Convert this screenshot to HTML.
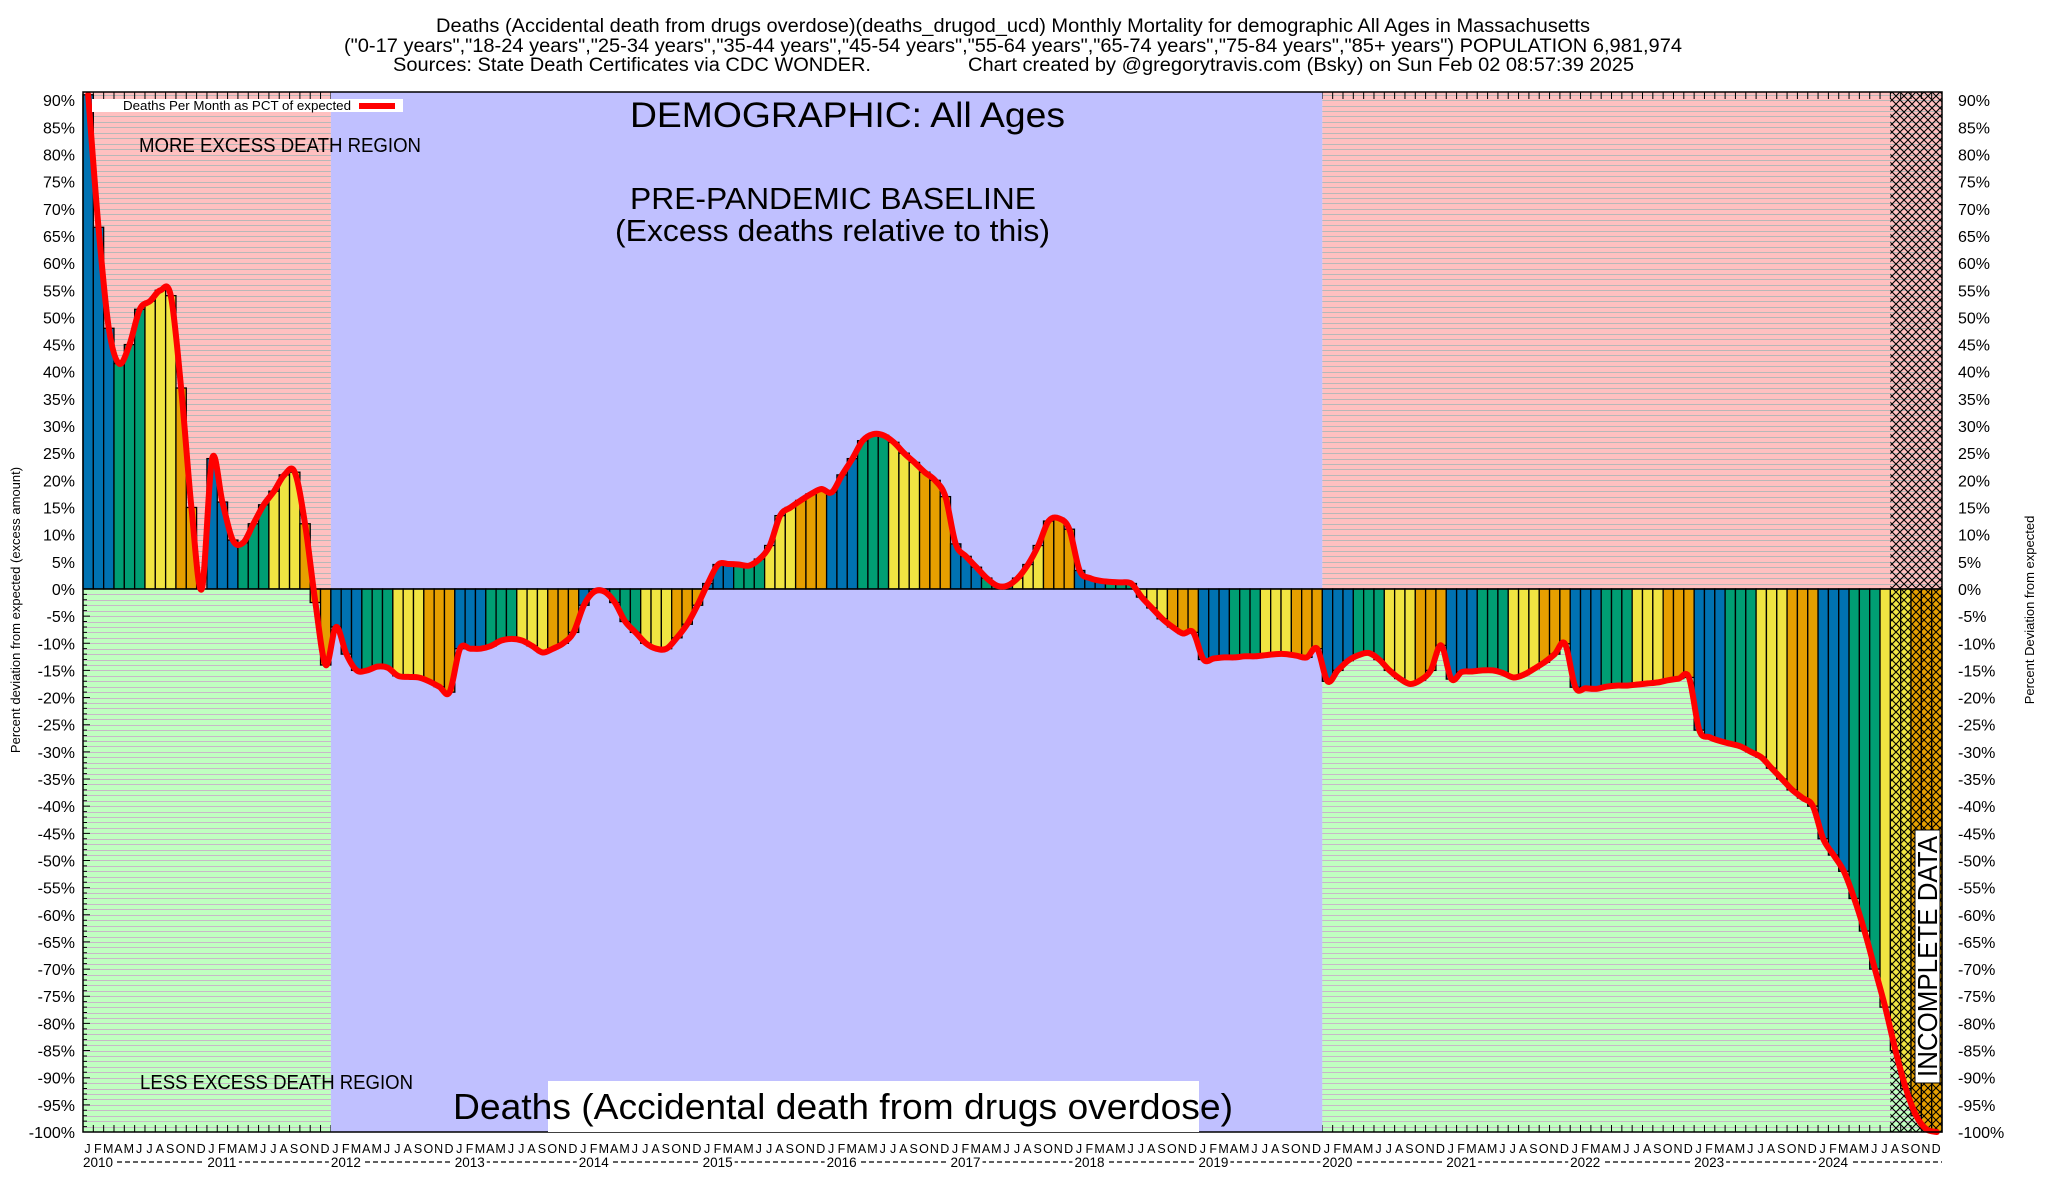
<!DOCTYPE html>
<html><head><meta charset="utf-8">
<style>
html,body{margin:0;padding:0;background:#fff;}
svg{display:block;font-family:"Liberation Sans",sans-serif;}
</style></head>
<body>
<svg id="chart" width="2048" height="1200" viewBox="0 0 2048 1200" xmlns="http://www.w3.org/2000/svg">
<defs>
<pattern id="hatch" width="8" height="8" patternUnits="userSpaceOnUse">
<path d="M0,0L8,8M8,0L0,8" stroke="#000" stroke-width="1.1"/>
</pattern>
</defs>
<g font-size="19" text-anchor="start" fill="#000">
<text x="436" y="32" textLength="1154" lengthAdjust="spacingAndGlyphs">Deaths (Accidental death from drugs overdose)(deaths_drugod_ucd) Monthly Mortality for demographic All Ages in Massachusetts</text>
<text x="344" y="52" textLength="1338" lengthAdjust="spacingAndGlyphs">("0-17 years","18-24 years","25-34 years","35-44 years","45-54 years","55-64 years","65-74 years","75-84 years","85+ years") POPULATION 6,981,974</text>
<text x="393" y="71" textLength="478" lengthAdjust="spacingAndGlyphs">Sources: State Death Certificates via CDC WONDER.</text>
<text x="968" y="71" textLength="666" lengthAdjust="spacingAndGlyphs">Chart created by @gregorytravis.com (Bsky) on Sun Feb 02 08:57:39 2025</text>
</g>
<g id="plot"></g>
<g id="overlay"></g>
</svg>
<script>
const monthLetters = ["J","F","M","A","M","J","J","A","S","O","N","D"];
const years = [2010,2011,2012,2013,2014,2015,2016,2017,2018,2019,2020,2021,2022,2023,2024];
const yTicks = [90,85,80,75,70,65,60,55,50,45,40,35,30,25,20,15,10,5,0,-5,-10,-15,-20,-25,-30,-35,-40,-45,-50,-55,-60,-65,-70,-75,-80,-85,-90,-95,-100];
const v2010 = [91,66.6,48,41.5,45,51.5,53,55,54,37,15,0];
const v2011 = [24,16,9,8.5,12,15.5,18,21,21.5,12,-2.5,-14];
const v2012 = [-7,-12,-15,-15,-14.3,-14.5,-16,-16.2,-16.3,-17,-18,-19];
const v2013 = [-11,-11,-11,-10.5,-9.5,-9.2,-9.5,-10.5,-11.7,-11,-10,-8];
const v2014 = [-3,-0.5,-0.5,-2.5,-6,-8,-10,-11,-11,-9,-6.5,-3];
const v2015 = [1,4.5,4.6,4.5,4.3,5.5,8,13.5,15,16.3,17.5,18.4];
const v2016 = [17.8,21,24,27.3,28.5,28.3,27,25,23.3,21.5,20,17];
const v2017 = [8.3,6,4,2,0.6,0.6,2,4.5,8,12.5,13,11];
const v2018 = [3.4,2,1.5,1.3,1.2,1,-1.5,-3.5,-5.5,-7,-8.2,-8];
const v2019 = [-13,-12.8,-12.6,-12.6,-12.4,-12.4,-12.2,-12,-12,-12.3,-12.6,-11];
const v2020 = [-17,-15,-13.2,-12.2,-11.8,-13,-15,-16.5,-17.5,-16.8,-15,-10.4];
const v2021 = [-16.6,-15.3,-15.2,-15,-15,-15.5,-16.3,-15.8,-14.7,-13.5,-12,-10.1];
const v2022 = [-18.1,-18.3,-18.4,-18,-17.8,-17.8,-17.6,-17.4,-17.2,-16.8,-16.5,-16.3];
const v2023 = [-26,-27.3,-28,-28.5,-29,-30,-31,-33,-35,-37,-38.5,-40];
const v2024 = [-46,-49,-52,-57,-63,-70,-77,-85,-92,-97,-99.5,-100];
const values = [].concat(v2010,v2011,v2012,v2013,v2014,v2015,v2016,v2017,v2018,v2019,v2020,v2021,v2022,v2023,v2024);
const incompleteMonths = 5;

const L=83,R=1942,T=92,B=1132;
const N=values.length, mw=(R-L)/N;
const VMIN=-100, VMAX=90;
const yTop=100.2;
function x(i){return L+i*mw;}
function y(v){return B-(v-VMIN)*(B-yTop)/(VMAX-VMIN);}
const y0=y(0);
const NS="http://www.w3.org/2000/svg";
const plot=document.getElementById('plot');
const overlay=document.getElementById('overlay');
function mk(tag,attrs,parent){const e=document.createElementNS(NS,tag);for(const k in attrs)e.setAttribute(k,attrs[k]);(parent||plot).appendChild(e);return e;}

// region backgrounds
const xBlue0=x(24), xBlue1=x(120), xInc=x(N-incompleteMonths);
let r;
r=mk('rect',{x:L,y:T,width:xBlue0-L,height:y0-T,fill:'#ffc0c0'});


r=mk('rect',{x:L,y:y0,width:xBlue0-L,height:B-y0,fill:'#c0ffc0'});


r=mk('rect',{x:xBlue1,y:T,width:R-xBlue1,height:y0-T,fill:'#ffc0c0'});


r=mk('rect',{x:xBlue1,y:y0,width:R-xBlue1,height:B-y0,fill:'#c0ffc0'});


// grid lines every 1%
const grid=mk('g',{});


let gd1='',gd2='';
for(let v=VMIN+1; v<=91; v++){
  const yy=Math.round(y(v))+0.5;
  if(v===0) continue;
  const s='M'+L+','+yy+'H'+R;
  if(v>0) gd1+=s; else gd2+=s;
}
mk('path',{d:gd1,stroke:'#b8b8b8','stroke-width':1},grid);
mk('path',{d:gd2,stroke:'#c8b8c8','stroke-width':1},grid);
// ticks
let td='';
for(let i=0;i<=N;i++){td+='M'+x(i)+','+T+'v7M'+x(i)+','+B+'v-7';}
for(let v=VMIN; v<=90; v++){td+='M'+L+','+y(v)+'h'+(v%5===0?7:4);}
const ticks=mk('path',{d:td,stroke:'#000','stroke-width':1});


// baseline blue region
r=mk('rect',{x:xBlue0,y:T,width:xBlue1-xBlue0,height:B-T,fill:'#c0c0ff'});



// bars
const qColors=['#0072b2','#009e73','#f0e442','#e69f00'];
const bars=mk('g',{});


values.forEach((v,i)=>{
  const m=i%12;
  const yy=y(v);
  const b=mk('rect',{x:x(i),y:Math.min(yy,y0),width:mw,height:Math.abs(yy-y0),fill:qColors[Math.floor(m/3)],stroke:'#000','stroke-width':1.3},bars);
  
  
});
// zero line
const zl=mk('line',{x1:L,x2:R,y1:y0,y2:y0,stroke:'#000','stroke-width':1.5});


// incomplete hatch
const hz=mk('rect',{x:xInc,y:T,width:R-xInc,height:B-T,fill:'url(#hatch)'});



// red smoothed line
const pts=values.map((v,i)=>[x(i)+mw/2,y(v)]);
let d='M'+pts[0][0]+','+pts[0][1];
for(let i=0;i<pts.length-1;i++){
  const p0=pts[Math.max(0,i-1)],p1=pts[i],p2=pts[i+1],p3=pts[Math.min(pts.length-1,i+2)];
  const k=1/6;
  const c1=[p1[0]+(p2[0]-p0[0])*k,p1[1]+(p2[1]-p0[1])*k];
  const c2=[p2[0]-(p3[0]-p1[0])*k,p2[1]-(p3[1]-p1[1])*k];
  d+='C'+c1[0].toFixed(1)+','+c1[1].toFixed(1)+' '+c2[0].toFixed(1)+','+c2[1].toFixed(1)+' '+p2[0].toFixed(1)+','+p2[1].toFixed(1);
}
const line=mk('path',{d:d,fill:'none',stroke:'#ff0000','stroke-width':6,'stroke-linejoin':'round','stroke-linecap':'round'},overlay);



// frame
const fr=mk('rect',{x:L,y:T,width:R-L,height:B-T,fill:'none',stroke:'#000','stroke-width':1.5},overlay);



// y labels
const yl=mk('g',{'font-size':16,fill:'#000'},overlay);


yTicks.forEach(v=>{
  const t1=mk('text',{x:75,y:y(v)+6,'text-anchor':'end'},yl);
  t1.textContent=v+'%';
  
  
  const t2=mk('text',{x:1958,y:y(v)+6,'text-anchor':'start'},yl);
  t2.textContent=v+'%';
  
  
});
// x month letters
const xl=mk('g',{'font-size':12.5,fill:'#000','text-anchor':'middle'},overlay);


for(let i=0;i<N;i++){
  const t=mk('text',{x:x(i)+4.5,y:1153},xl);
  t.textContent=monthLetters[i%12];
  
  
}
const dash=mk('line',{x1:85,x2:R,y1:1162,y2:1162,stroke:'#000','stroke-width':1.2,'stroke-dasharray':'5,3'},overlay);


years.forEach((yr,k)=>{
  const cx=x(k*12)+15;
  const bg=mk('rect',{x:cx-17,y:1153,width:34,height:16,fill:'#fff'},overlay);
  
  
  const t=mk('text',{x:cx,y:1167,'font-size':13.5,'text-anchor':'middle'},overlay);
  t.textContent=yr;
  
  
});
</script>
<svg style="position:absolute;left:0;top:0" width="2048" height="1200">
<g font-family="Liberation Sans, sans-serif" fill="#000">
<rect x="92" y="99" width="311" height="13" fill="#fff"/>
<text x="123" y="110" font-size="12.5" textLength="228" lengthAdjust="spacingAndGlyphs">Deaths Per Month as PCT of expected</text>
<line x1="359" y1="106" x2="395" y2="106" stroke="#ff0000" stroke-width="6"/>
<text x="139" y="152" font-size="20" textLength="282" lengthAdjust="spacingAndGlyphs">MORE EXCESS DEATH REGION</text>
<text x="140" y="1089" font-size="20" textLength="273" lengthAdjust="spacingAndGlyphs">LESS EXCESS DEATH REGION</text>
<text x="630" y="127" font-size="35" textLength="435" lengthAdjust="spacingAndGlyphs">DEMOGRAPHIC: All Ages</text>
<text x="630" y="209" font-size="31" textLength="406" lengthAdjust="spacingAndGlyphs">PRE-PANDEMIC BASELINE</text>
<text x="615" y="241" font-size="31" textLength="435" lengthAdjust="spacingAndGlyphs">(Excess deaths relative to this)</text>
<rect x="548" y="1081" width="651" height="51" fill="#fff"/>
<text x="453" y="1119" font-size="36" textLength="780" lengthAdjust="spacingAndGlyphs">Deaths (Accidental death from drugs overdose)</text>
<rect x="1915" y="830" width="25" height="253" fill="#fff" stroke="#000" stroke-width="1"/>
<text transform="translate(1937,1077) rotate(-90)" font-size="28" textLength="241" lengthAdjust="spacingAndGlyphs">INCOMPLETE DATA</text>
<text transform="translate(20,610) rotate(-90)" font-size="13" text-anchor="middle">Percent deviation from expected (excess amount)</text>
<text transform="translate(2034,610) rotate(-90)" font-size="13" text-anchor="middle">Percent Deviation from expected</text>
</g>
</svg>
</body></html>
